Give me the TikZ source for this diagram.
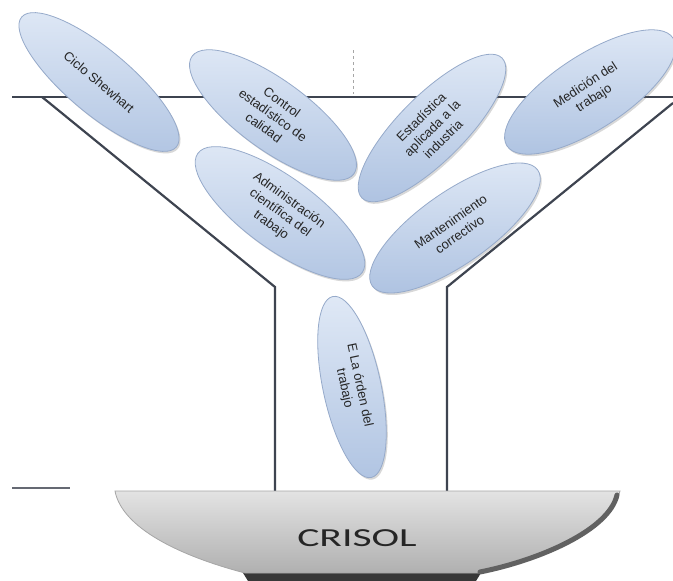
\documentclass[tikz,border=0pt]{standalone}
\usepackage{fontspec}
\setmainfont{Liberation Sans}
\newfontfamily\crisolfont{Carlito}
\usetikzlibrary{shapes.geometric,shadows}
\definecolor{funnel}{RGB}{62,68,80}
\definecolor{pilltop}{RGB}{224,233,246}
\definecolor{pillbot}{RGB}{176,196,226}
\definecolor{pilledge}{RGB}{150,170,202}
\tikzset{
  pill/.style={ellipse, draw=pilledge, line width=0.8pt,
    top color=pilltop, bottom color=pillbot, inner sep=0pt,
    align=center, font=\fontsize{13}{15.5}\selectfont, text=black!85,
    drop shadow={shadow xshift=1.5pt, shadow yshift=-2pt, opacity=0.25, fill=black!60}},
  funnelline/.style={draw=funnel, line width=2.2pt, line join=miter},
  rimline/.style={draw=funnel, line width=1.1pt},
}
\begin{document}
\begin{tikzpicture}[x=1pt,y=-1pt]
\useasboundingbox[fill=white] (0,0) rectangle (673,581);

% funnel outline
\coordinate (rimL) at (12,97);
\coordinate (rimR) at (673,97);
\draw[rimline] (rimL) -- (rimR);
\draw[gray!70, dashed, line width=0.7pt] (353,50) -- (353,94);
\draw[funnelline] (42,97) -- (47,101) -- (275,287) -- (275,491);
\draw[funnelline] (673,103) -- (447,287) -- (447,491);
\coordinate (shortA) at (12,488);
\coordinate (shortB) at (70,488);
\draw[rimline, draw=funnel!80] (shortA) -- (shortB);

% crucible
\fill[black!78] (240,568) -- (484,568) -- (476,581) -- (248,581) -- cycle;
\shade[top color=gray!22, bottom color=gray!62, draw=gray!70, line width=0.8pt]
  (115,491) -- (620,491)
  .. controls (610,530) and (540,560) .. (478,573)
  -- (245,573)
  .. controls (180,556) and (122,528) .. (115,491) -- cycle;
\draw[black!62, line width=5pt, line cap=round] (617,495) .. controls (609,530) and (540,560) .. (480,572);
\node[font=\crisolfont\fontsize{26}{26}\selectfont, text=black!85, xscale=1.6, transform shape] (crisol) at (357,538) {CRISOL};

% topic ellipses
\node[pill, minimum width=202pt, minimum height=64pt, rotate=-40] (shewhart) at (99,82) {Ciclo Shewhart};
\node[pill, minimum width=200pt, minimum height=70pt, rotate=-36] (control) at (273,115) {Control\\estadístico de\\calidad};
\node[pill, minimum width=198pt, minimum height=66pt, rotate=45] (estad) at (432,128) {Estadística\\aplicada a la\\industria};
\node[pill, minimum width=198pt, minimum height=74pt, rotate=33] (medicion) at (590,92) {Medición del\\trabajo};
\node[pill, minimum width=203pt, minimum height=72pt, rotate=-36] (admin) at (280,213) {Administración\\científica del\\trabajo};
\node[pill, minimum width=202pt, minimum height=72pt, rotate=35] (mant) at (455,228) {Mantenimiento\\correctivo};
\node[pill, minimum width=185pt, minimum height=58pt, rotate=-78] (orden) at (352,387) {E La órden del\\trabajo};
\end{tikzpicture}
\end{document}
